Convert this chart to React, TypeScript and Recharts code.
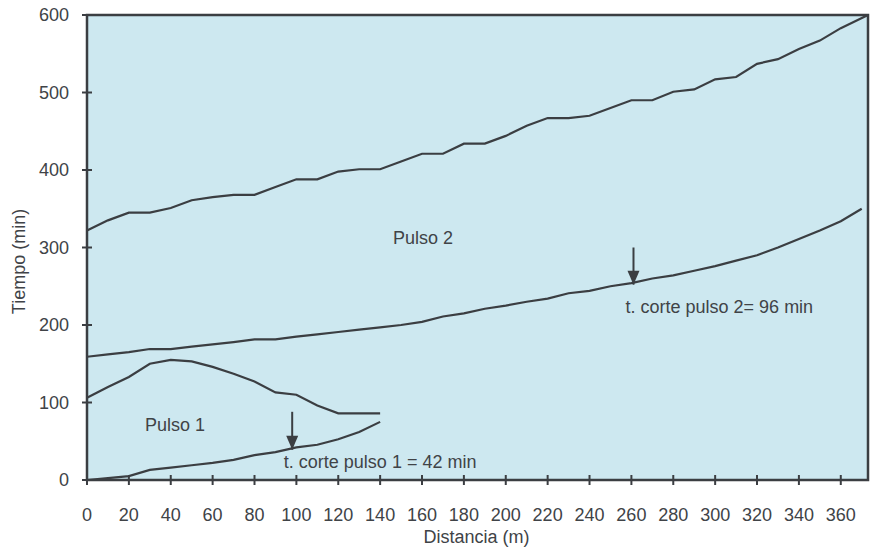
import {
  Label,
  Line,
  LineChart,
  ReferenceArea,
  ReferenceDot,
  XAxis,
  YAxis,
} from "recharts";

// distancia (m) -> tiempo (min)
const PULSO2_TOP_X = [0, 10, 20, 30, 40, 50, 60, 70, 80, 90, 100, 110, 120, 130, 140, 150, 160, 170, 180, 190, 200, 210, 220, 230, 240, 250, 260, 270, 280, 290, 300, 310, 320, 330, 340, 350, 360, 373];
const PULSO2_TOP_Y = [322, 335, 345, 345, 351, 361, 365, 368, 368, 378, 388, 388, 398, 401, 401, 411, 421, 421, 434, 434, 444, 457, 467, 467, 470, 480, 490, 490, 501, 504, 517, 520, 537, 543, 556, 567, 583, 600];

const PULSO2_BOTTOM_X = [0, 10, 20, 30, 40, 50, 60, 70, 80, 90, 100, 110, 120, 130, 140, 150, 160, 170, 180, 190, 200, 210, 220, 230, 240, 250, 260, 270, 280, 290, 300, 310, 320, 330, 340, 350, 360, 370];
const PULSO2_BOTTOM_Y = [159, 162, 165, 169, 169, 172, 175, 178, 181.5, 181.5, 185, 188, 191, 194, 197, 200, 204, 211, 215, 221, 225, 230, 234, 241, 244, 250, 254, 260, 264, 270, 276, 283, 290, 300, 311, 322, 334, 350];

const PULSO1_X = [0, 10, 20, 30, 40, 50, 60, 70, 80, 90, 100, 110, 120, 130, 140];
const PULSO1_TOP_Y = [106, 120, 133, 150, 155, 153, 146, 137, 127, 113, 110, 96, 86, 86, 86];
const PULSO1_BOTTOM_Y = [0, 2.5, 5, 13, 16, 19, 22, 26, 32, 36, 42, 45.5, 52.5, 62, 75];

const X_TICKS = [0, 20, 40, 60, 80, 100, 120, 140, 160, 180, 200, 220, 240, 260, 280, 300, 320, 340, 360];
const Y_TICKS = [0, 100, 200, 300, 400, 500, 600];

const ARROW1 = [
  { x: 98, y: 88 },
  { x: 98, y: 39 },
];
const ARROW2 = [
  { x: 261, y: 300 },
  { x: 261, y: 252 },
];

const toPoints = (xs: number[], ys: number[]) =>
  xs.map((x, i) => ({ x, y: ys[i] }));

const INK = "#3b3e42";
const TEXT = "#404347";
const FILL = "#cde8f0";
const FONT_SIZE = 18;

const XTick = ({ x, y, payload }: any) => (
  <g>
    <line x1={x} x2={x} y1={y - 5} y2={y + 5} stroke={INK} strokeWidth={2} />
    <text
      x={x}
      y={y + 35}
      textAnchor="middle"
      dominantBaseline="central"
      fill={TEXT}
      fontSize={FONT_SIZE}
    >
      {payload.value}
    </text>
  </g>
);

const YTick = ({ x, y, payload }: any) => (
  <g>
    <line x1={x - 5} x2={x + 5} y1={y} y2={y} stroke={INK} strokeWidth={2} />
    <text
      x={x - 18}
      y={y}
      textAnchor="end"
      dominantBaseline="central"
      fill={TEXT}
      fontSize={FONT_SIZE}
    >
      {payload.value}
    </text>
  </g>
);

const arrowHead = (props: any) => {
  const { cx, cy, index } = props;
  if (index !== 1) return <g key={`a-${index}`} />;
  return (
    <path
      key={`a-${index}`}
      d={`M${cx},${cy} L${cx - 6},${cy - 14} L${cx + 6},${cy - 14} Z`}
      fill={INK}
      stroke="none"
    />
  );
};

const annotations = [
  { x: 160.5, y: 313, text: "Pulso 2" },
  { x: 42, y: 72, text: "Pulso 1" },
  { x: 140, y: 24, text: "t. corte pulso 1 = 42 min" },
  { x: 302, y: 224, text: "t. corte pulso 2= 96 min" },
];

export default function App() {
  return (
    <div
      style={{
        position: "absolute",
        left: 0,
        top: 0,
        width: 874,
        height: 550,
        background: "#ffffff",
        fontFamily: "'Liberation Sans', Arial, sans-serif",
      }}
    >
      <LineChart
        width={874}
        height={550}
        margin={{ top: 15, right: 6, bottom: 0, left: 0 }}
      >
        <XAxis
          type="number"
          dataKey="x"
          domain={[0, 373]}
          ticks={X_TICKS}
          interval={0}
          height={70}
          tickSize={0}
          tickMargin={0}
          axisLine={false}
          tickLine={false}
          tick={<XTick />}
          allowDataOverflow
        >
          <Label
            content={({ viewBox }: any) => (
              <text
                x={viewBox.x + viewBox.width / 2 - 1}
                y={537}
                textAnchor="middle"
                dominantBaseline="central"
                fill={TEXT}
                fontSize={FONT_SIZE}
              >
                Distancia (m)
              </text>
            )}
          />
        </XAxis>
        <YAxis
          type="number"
          dataKey="y"
          domain={[0, 600]}
          ticks={Y_TICKS}
          interval={0}
          width={87}
          tickSize={0}
          tickMargin={0}
          axisLine={false}
          tickLine={false}
          tick={<YTick />}
          allowDataOverflow
        >
          <Label
            content={({ viewBox }: any) => {
              const cx = 19;
              const cy = viewBox.y + viewBox.height / 2 + 14;
              return (
                <text
                  x={cx}
                  y={cy}
                  transform={`rotate(-90 ${cx} ${cy})`}
                  textAnchor="middle"
                  dominantBaseline="central"
                  fill={TEXT}
                  fontSize={FONT_SIZE}
                >
                  Tiempo (min)
                </text>
              );
            }}
          />
        </YAxis>
        <ReferenceArea
          x1={0}
          x2={373}
          y1={0}
          y2={600}
          fill={FILL}
          fillOpacity={1}
          stroke={INK}
          strokeWidth={2.5}
        />
        <Line
          data={toPoints(PULSO2_TOP_X, PULSO2_TOP_Y)}
          dataKey="y"
          type="linear"
          stroke={INK}
          strokeWidth={2.2}
          dot={false}
          isAnimationActive={false}
        />
        <Line
          data={toPoints(PULSO2_BOTTOM_X, PULSO2_BOTTOM_Y)}
          dataKey="y"
          type="linear"
          stroke={INK}
          strokeWidth={2.2}
          dot={false}
          isAnimationActive={false}
        />
        <Line
          data={toPoints(PULSO1_X, PULSO1_TOP_Y)}
          dataKey="y"
          type="linear"
          stroke={INK}
          strokeWidth={2.2}
          dot={false}
          isAnimationActive={false}
        />
        <Line
          data={toPoints(PULSO1_X, PULSO1_BOTTOM_Y)}
          dataKey="y"
          type="linear"
          stroke={INK}
          strokeWidth={2.2}
          dot={false}
          isAnimationActive={false}
        />
        <Line
          data={ARROW1}
          dataKey="y"
          type="linear"
          stroke={INK}
          strokeWidth={2}
          dot={arrowHead}
          activeDot={false}
          isAnimationActive={false}
        />
        <Line
          data={ARROW2}
          dataKey="y"
          type="linear"
          stroke={INK}
          strokeWidth={2}
          dot={arrowHead}
          activeDot={false}
          isAnimationActive={false}
        />
        {annotations.map((a) => (
          <ReferenceDot
            key={a.text}
            x={a.x}
            y={a.y}
            r={0}
            fill="none"
            stroke="none"
            label={{
              value: a.text,
              position: "center",
              fill: TEXT,
              fontSize: FONT_SIZE,
            }}
          />
        ))}
      </LineChart>
    </div>
  );
}
